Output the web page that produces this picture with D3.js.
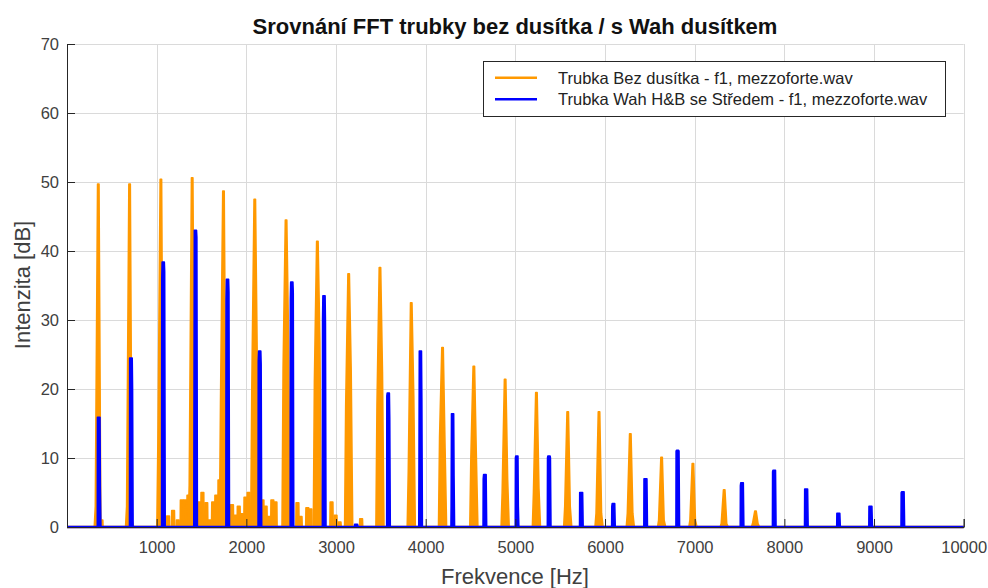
<!DOCTYPE html>
<html>
<head>
<meta charset="utf-8">
<script src="https://cdn.jsdelivr.net/npm/d3@7"></script>
<style>
  body { margin: 0; background: #fff; }
  text { font-family: "Liberation Sans", Arial, Helvetica, sans-serif; }
</style>
</head>
<body>
<svg id="chart" width="988" height="588"></svg>
<script>
// Harmonic peaks of the open trumpet (no mute), f1 mezzoforte
const orangePeakHz = [349, 698, 1047, 1396, 1745, 2094, 2443, 2792, 3141, 3490, 3839, 4188, 4537, 4886, 5235, 5584, 5933, 6282, 6631, 6980, 7329, 7678];
const orangePeakDb = [49.7, 49.7, 50.4, 50.6, 48.7, 47.5, 44.5, 41.4, 36.7, 37.6, 32.5, 26.0, 23.3, 21.4, 19.5, 16.7, 16.7, 13.5, 10.1, 9.2, 5.4, 2.3];
const orangeSkirtL = [3, 3, 12.5, 6, 18, 20, 23, 21, 17.5, 17.6, 8, 13, 10, 5, 5, 3, 2, 2, 1, 1, 0.5, 0.5];
const orangeSkirtR = [1, 1, 4, 8, 10, 23.7, 27, 27, 22.8, 22.5, 19, 11.5, 10.2, 6.9, 5.6, 3, 2, 2, 1, 1, 0.5, 0.5];
// Low-level spectral content between harmonics
const orangeNoiseHz = [384, 1127, 1183, 1235, 1280, 1317, 1354, 1473, 1510, 1553, 1590, 1630, 1665, 1700, 1840, 1880, 1915, 1950, 1990, 2025, 2180, 2215, 2250, 2290, 2325, 2570, 2605, 2680, 2715, 2950, 2995, 3040, 3280];
const orangeNoiseDb = [1.0, 1.6, 2.4, 1.0, 3.9, 3.9, 4.6, 3.6, 5.0, 3.5, 1.0, 3.6, 4.6, 6.8, 3.2, 1.7, 3.0, 1.9, 4.3, 5.0, 3.9, 3.0, 1.5, 3.9, 3.6, 3.5, 1.5, 2.8, 2.6, 3.6, 1.7, 0.7, 1.2];

// Harmonic peaks of the trumpet with Harmon (Wah) mute, stem in
const bluePeakHz = [358, 717, 1075, 1434, 1792, 2151, 2509, 2868, 3226, 3585, 3943, 4302, 4660, 5019, 5377, 5736, 6094, 6453, 6811, 7528, 7887, 8245, 8604, 8962, 9321];
const bluePeakDb = [15.9, 24.5, 38.4, 43.0, 35.9, 25.5, 35.5, 33.5, 0.4, 19.4, 25.5, 16.4, 7.6, 10.3, 10.3, 5.0, 3.4, 7.0, 11.1, 6.4, 8.2, 5.5, 2.0, 3.0, 5.1];
const blueSkirtL = [15.9, 24.5, 36, 14, 33, 24, 33, 30, 0.4, 19, 7, 3, 7, 10, 10, 5, 3, 7, 11, 6, 8, 5.5, 2, 3, 5];
const blueSkirtR = [5.9, 20, 37, 42, 34, 23.6, 34, 29.6, 0.4, 15.7, 18.7, 7.5, 7.6, 3, 10, 5, 3.4, 7, 11, 6.4, 8.2, 5.5, 2, 3, 5.1];

const xTicks = [1000, 2000, 3000, 4000, 5000, 6000, 7000, 8000, 9000, 10000];
const yTicks = [0, 10, 20, 30, 40, 50, 60, 70];

const seriesNames = [
  "Trubka Bez dusítka - f1, mezzoforte.wav",
  "Trubka Wah H&B se Středem - f1, mezzoforte.wav"
];
const seriesColors = ["#ff9900", "#0000ff"];

const svg = d3.select("#chart");
const x = d3.scaleLinear().domain([0, 10000]).range([67, 963.7]);
const y = d3.scaleLinear().domain([0, 70]).range([527, 44]);

// grid
const grid = svg.append("g").attr("stroke", "#dadada").attr("stroke-width", 1);
grid.selectAll("line.gx").data(xTicks).join("line")
  .attr("x1", d => Math.round(x(d)) + 0.5).attr("x2", d => Math.round(x(d)) + 0.5)
  .attr("y1", y(70)).attr("y2", y(0));
grid.selectAll("line.gy").data(yTicks.slice(1)).join("line")
  .attr("y1", d => Math.round(y(d)) + 0.5).attr("y2", d => Math.round(y(d)) + 0.5)
  .attr("x1", x(0)).attr("x2", x(10000));

// spectrum shapes built from the peak tables
function peakShapes(hz, db, sl, sr, w) {
  return hz.map((f, i) => [
    [f - w[0], 0], [f - w[1], sl[i]], [f - w[2], db[i]],
    [f + w[3], db[i]], [f + w[4], sr[i]], [f + w[5], 0]
  ]);
}
function noiseShapes(hz, db) {
  return hz.map((f, i) => [[f - 18, 0], [f - 15, db[i]], [f + 15, db[i]], [f + 18, 0]]);
}
const line = d3.line().x(d => x(d[0])).y(d => y(d[1]));

function drawSeries(shapes, color) {
  const g = svg.append("g");
  g.selectAll("path").data(shapes).join("path")
    .attr("d", d => line(d) + "Z")
    .attr("fill", color).attr("stroke", color)
    .attr("stroke-width", 1.6).attr("stroke-linejoin", "round");
  g.append("path")
    .attr("d", line([[0, 0], [10000, 0]]))
    .attr("stroke", color).attr("stroke-width", 2.6).attr("fill", "none");
}

const orangeShapes = noiseShapes(orangeNoiseHz, orangeNoiseDb)
  .concat(peakShapes(orangePeakHz, orangePeakDb, orangeSkirtL, orangeSkirtR, [45, 33, 8, 8, 28, 45]));
const blueShapes = peakShapes(bluePeakHz, bluePeakDb, blueSkirtL, blueSkirtR, [20, 18, 14, 10, 14, 20]);

drawSeries(orangeShapes, seriesColors[0]);
drawSeries(blueShapes, seriesColors[1]);

// axes
const axisColor = "#262626";
const yAxis = svg.append("g").attr("transform", `translate(${x(0)},0)`)
  .call(d3.axisLeft(y).tickValues(yTicks).tickFormat(d3.format("d")).tickSize(-8).tickPadding(8));
const xAxis = svg.append("g").attr("transform", `translate(0,${y(0)})`)
  .call(d3.axisBottom(x).tickValues(xTicks).tickFormat(d3.format("d")).tickSize(-8).tickPadding(14));
[xAxis, yAxis].forEach(a => {
  a.select(".domain").attr("stroke", axisColor).attr("stroke-width", 1);
  a.selectAll(".tick line").attr("stroke", axisColor);
  a.selectAll(".tick text").attr("fill", "#404040").style("font-size", "16.5px")
    .style("font-family", "'Liberation Sans', Arial, sans-serif");
});

// titles
svg.append("text").attr("x", 515).attr("y", 34).attr("text-anchor", "middle")
  .style("font-size", "22px").style("font-weight", "bold").attr("fill", "#111")
  .text("Srovnání FFT trubky bez dusítka / s Wah dusítkem");
svg.append("text").attr("x", 515).attr("y", 584).attr("text-anchor", "middle")
  .style("font-size", "22px").attr("fill", "#404040").text("Frekvence [Hz]");
svg.append("text").attr("transform", "translate(30,285) rotate(-90)").attr("text-anchor", "middle")
  .style("font-size", "22px").attr("fill", "#404040").text("Intenzita [dB]");

// legend
const lg = svg.append("g");
lg.append("rect").attr("x", 483.5).attr("y", 61.5).attr("width", 462).attr("height", 55)
  .attr("fill", "#fff").attr("stroke", "#262626").attr("stroke-width", 1);
seriesNames.forEach((name, i) => {
  const yy = 77.7 + i * 21.6;
  lg.append("line").attr("x1", 495).attr("x2", 537).attr("y1", yy).attr("y2", yy)
    .attr("stroke", seriesColors[i]).attr("stroke-width", 2.5);
  lg.append("text").attr("x", 558).attr("y", yy + 6).style("font-size", "16.5px")
    .attr("fill", "#222").text(name);
});
</script>
</body>
</html>
